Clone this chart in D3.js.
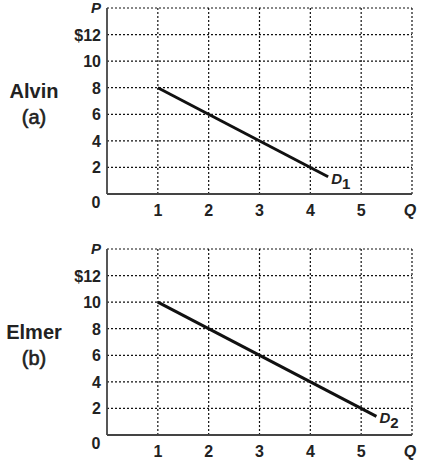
<!DOCTYPE html>
<html>
<head>
<meta charset="utf-8">
<script src="https://cdn.jsdelivr.net/npm/d3@7"></script>
<style>
  body { margin: 0; background: #fff; }
  text { font-family: "Liberation Sans", Arial, sans-serif; font-weight: bold; fill: #222; }
</style>
</head>
<body>
<svg id="chart" width="431" height="465"></svg>
<script>
const xTicks = [1, 2, 3, 4, 5];
const yTicks = [2, 4, 6, 8, 10, 12];
const gridX = [1, 2, 3, 4, 5, 6];
const gridY = [2, 4, 6, 8, 10, 12, 14];

const panels = [
  { name: "Alvin", tag: "(a)", curve: "D", sub: "1", top: 8, bottom: 194,
    q: [1, 4.35], p: [8, 1.3] },
  { name: "Elmer", tag: "(b)", curve: "D", sub: "2", top: 249, bottom: 435,
    q: [1, 5.3], p: [10, 1.4] },
];

const svg = d3.select("#chart");

panels.forEach((pn) => {
  const x = d3.scaleLinear().domain([0, 6]).range([107, 412]);
  const y = d3.scaleLinear().domain([0, 14]).range([pn.bottom, pn.top]);
  const g = svg.append("g");

  g.selectAll(".gx").data(gridX).enter().append("line")
    .attr("x1", (d) => x(d)).attr("x2", (d) => x(d))
    .attr("y1", y(0)).attr("y2", y(14))
    .attr("stroke", "#111").attr("stroke-width", 1.2).attr("stroke-dasharray", "2,2");
  g.selectAll(".gy").data(gridY).enter().append("line")
    .attr("x1", x(0)).attr("x2", x(6))
    .attr("y1", (d) => y(d)).attr("y2", (d) => y(d))
    .attr("stroke", "#111").attr("stroke-width", 1.2).attr("stroke-dasharray", "2,2");

  // axes
  g.append("line").attr("x1", x(0)).attr("x2", x(0)).attr("y1", y(0)).attr("y2", y(14))
    .attr("stroke", "#444").attr("stroke-width", 1.8);
  g.append("line").attr("x1", x(0)).attr("x2", x(6)).attr("y1", y(0)).attr("y2", y(0))
    .attr("stroke", "#444").attr("stroke-width", 1.8);

  g.selectAll(".yl").data(yTicks).enter().append("text")
    .attr("x", 101).attr("y", (d) => y(d) + 6)
    .attr("text-anchor", "end").style("font-size", "16px")
    .text((d) => (d === 12 ? "$12" : d));
  g.append("text").attr("x", 96).attr("y", y(0) + 14).attr("text-anchor", "middle")
    .style("font-size", "16px").text("0");
  g.append("text").attr("x", 101).attr("y", y(14) + 5).attr("text-anchor", "end")
    .style("font-size", "15px").style("font-style", "italic").text("P");

  g.selectAll(".xl").data(xTicks).enter().append("text")
    .attr("x", (d) => x(d)).attr("y", y(0) + 22)
    .attr("text-anchor", "middle").style("font-size", "16px").text((d) => d);
  g.append("text").attr("x", 410).attr("y", y(0) + 22).attr("text-anchor", "middle")
    .style("font-size", "16px").style("font-style", "italic").text("Q");

  const ym = (pn.top + pn.bottom) / 2;
  g.append("text").attr("x", 34).attr("y", ym - 3).attr("text-anchor", "middle")
    .style("font-size", "20px").text(pn.name);
  g.append("text").attr("x", 34).attr("y", ym + 23).attr("text-anchor", "middle")
    .style("font-size", "20px").style("font-weight", "normal").style("stroke", "#222").style("stroke-width", 0.6)
    .text(pn.tag);

  const pts = pn.q.map((q, i) => [q, pn.p[i]]);
  g.append("path").datum(pts)
    .attr("d", d3.line().x((d) => x(d[0])).y((d) => y(d[1])))
    .attr("fill", "none").attr("stroke", "#111").attr("stroke-width", 3);

  const lt = g.append("text")
    .attr("x", x(pn.q[1]) + 3).attr("y", y(pn.p[1]) + 7)
    .style("font-size", "15px").style("font-style", "italic");
  lt.append("tspan").text(pn.curve);
  lt.append("tspan").attr("dy", 5).style("font-style", "normal").text(pn.sub);
});
</script>
</body>
</html>
